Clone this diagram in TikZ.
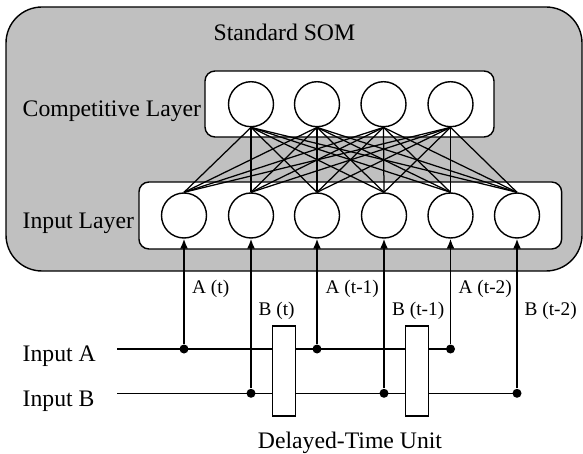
\documentclass[tikz,border=0pt]{standalone}
\usepackage{fontspec}
\setmainfont{Liberation Serif}
\usetikzlibrary{arrows.meta}
\definecolor{somgray}{RGB}{192,192,192}
\begin{document}
\begin{tikzpicture}[x=1pt,y=-1pt,line width=1.4pt,
  neuron/.style={circle,draw,fill=white,minimum size=45pt,inner sep=0pt},
  layerbox/.style={draw,fill=white,rounded corners=10pt,inner sep=0pt},
  big/.style={font=\fontsize{23.7}{28}\selectfont,inner sep=0pt},
  small/.style={font=\fontsize{19.3}{23}\selectfont,inner sep=0pt},
  dot/.style={circle,fill=black,inner sep=0pt,minimum size=9pt},
  delaybox/.style={draw,fill=white,minimum width=23pt,minimum height=90pt,inner sep=0pt},
  link/.style={line width=1.25pt},
  feed/.style={line width=1.6pt,-{Latex[length=10pt,width=8pt]}}]
\useasboundingbox (0,0) rectangle (583,454);
% outer SOM box
\node[draw,fill=somgray,rounded corners=36pt,minimum width=576pt,minimum height=264pt,inner sep=0pt] (som) at (294,139) {};
\node[big,anchor=base] (title) at (284.4,40.7) {Standard SOM};
% layer boxes
\node[layerbox,minimum width=289pt,minimum height=66pt] (compbox) at (349.5,104) {};
\node[layerbox,minimum width=422.7pt,minimum height=67pt] (inbox) at (350.3,215.5) {};
\node[big,anchor=base west] (complabel) at (22,116.7) {Competitive Layer};
\node[big,anchor=base west] (inlabel) at (22,228.3) {Input Layer};
% neurons
\foreach \n/\x in {1/251,2/317,3/383.5,4/450.5}
  \node[neuron] (c\n) at (\x,104.2) {};
\foreach \n/\x in {1/184,2/251,3/317,4/384,5/450.5,6/517}
  \node[neuron] (i\n) at (\x,215.5) {};
\foreach \c in {1,...,4}
  \foreach \i in {1,...,6}
    \draw[link] (c\c.south) -- (i\i.north);
% input lines
\node[big,anchor=base west] (inAlabel) at (22,361.7) {Input A};
\node[big,anchor=base west] (inBlabel) at (22,406.7) {Input B};
\coordinate (inA) at (117,349);
\coordinate (inB) at (117,393.3);
\node[dot] (a1) at (184,349) {};
\node[dot] (a2) at (317,349) {};
\node[dot] (a3) at (450.5,349) {};
\node[dot] (b1) at (251,393.3) {};
\node[dot] (b2) at (384,393.3) {};
\node[dot] (b3) at (517,393.3) {};
\draw[line width=1.6pt] (inA) -- (a3.center);
\draw[line width=1.6pt] (inB) -- (b3.center);
% delay units
\node[delaybox] (dt1) at (284.2,371) {};
\node[delaybox] (dt2) at (417.2,371) {};
\node[big,anchor=base] (dtlabel) at (350,448) {Delayed-Time Unit};
% feeds
\draw[feed] (a1) -- (i1);
\draw[feed] (b1) -- (i2);
\draw[feed] (a2) -- (i3);
\draw[feed] (b2) -- (i4);
\draw[feed] (a3) -- (i5);
\draw[feed] (b3) -- (i6);
\node[small,anchor=base west] (la1) at (191.5,293.3) {A (t)};
\node[small,anchor=base west] (lb1) at (258,315) {B (t)};
\node[small,anchor=base west] (la2) at (325,293.3) {A (t-1)};
\node[small,anchor=base west] (lb2) at (391.5,315) {B (t-1)};
\node[small,anchor=base west] (la3) at (458,293.3) {A (t-2)};
\node[small,anchor=base west] (lb3) at (524,315) {B (t-2)};
\end{tikzpicture}
\end{document}
